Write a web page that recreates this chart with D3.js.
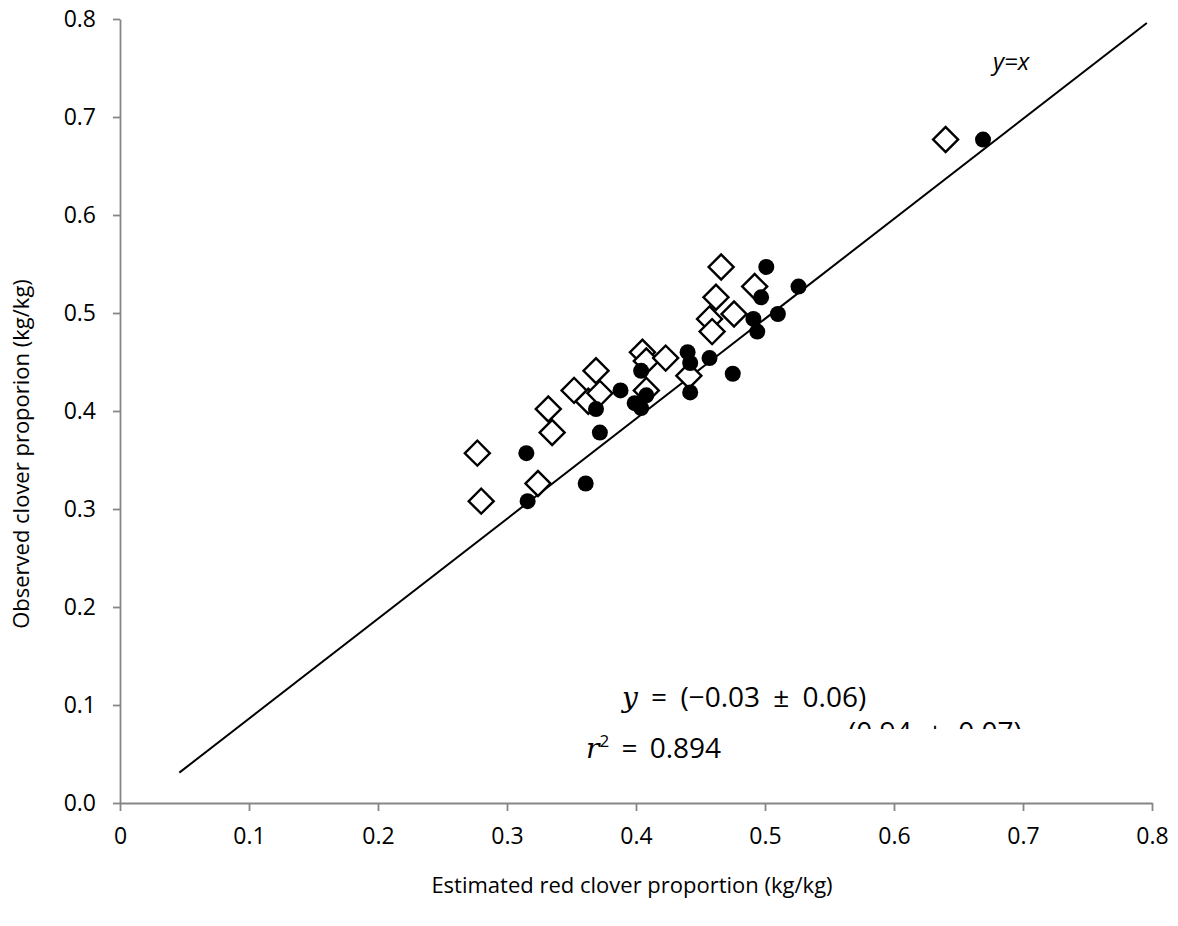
<!DOCTYPE html>
<html>
<head>
<meta charset="utf-8">
<script src="https://cdn.jsdelivr.net/npm/d3@7"></script>
<style>
  html, body { margin: 0; padding: 0; background: #ffffff; }
  svg { display: block; }
</style>
</head>
<body>
<svg id="chart" width="1178" height="926"></svg>
<script>
// Axis ticks (both axes run 0 – 0.8 kg/kg)
const tickValues = [0, 0.1, 0.2, 0.3, 0.4, 0.5, 0.6, 0.7, 0.8];
const xTickLabels = ["0", "0.1", "0.2", "0.3", "0.4", "0.5", "0.6", "0.7", "0.8"];
const yTickLabels = ["0.0", "0.1", "0.2", "0.3", "0.4", "0.5", "0.6", "0.7", "0.8"];

// Filled circles: estimated vs observed red clover proportion
const filledEstimated = [0.315, 0.316, 0.361, 0.372, 0.369, 0.388, 0.399, 0.404, 0.408, 0.404, 0.440,
                         0.442, 0.457, 0.475, 0.442, 0.491, 0.494, 0.510, 0.497, 0.501, 0.526, 0.669];
const filledObserved  = [0.357, 0.308, 0.326, 0.378, 0.402, 0.421, 0.408, 0.403, 0.416, 0.441, 0.460,
                         0.449, 0.454, 0.438, 0.419, 0.494, 0.481, 0.499, 0.516, 0.547, 0.527, 0.677];

// Open diamonds: estimated vs observed red clover proportion
const openEstimated = [0.277, 0.280, 0.324, 0.335, 0.332, 0.352, 0.363, 0.372, 0.369, 0.405, 0.408,
                       0.423, 0.408, 0.441, 0.457, 0.459, 0.476, 0.462, 0.466, 0.492, 0.640];
const openObserved  = [0.357, 0.308, 0.326, 0.378, 0.402, 0.421, 0.410, 0.418, 0.441, 0.460, 0.451,
                       0.454, 0.421, 0.436, 0.494, 0.481, 0.499, 0.516, 0.547, 0.527, 0.677];

// Reference line end points
const refLineX = [0.046, 0.796];
const refLineY = [0.031, 0.796];

const svg = d3.select("#chart");
const FONT = "'Open Sans', 'DejaVu Sans', sans-serif";
const MATH_ITALIC = "'DejaVu Serif', serif";
const AXIS_GREY = "#868686";

const x = d3.scaleLinear().domain([0, 0.8]).range([120, 1152]);
const y = d3.scaleLinear().domain([0, 0.8]).range([803, 19]);

svg.append("rect").attr("width", 1178).attr("height", 926).attr("fill", "#ffffff");

// Y axis
const yAxis = d3.axisLeft(y)
  .tickValues(tickValues)
  .tickFormat((d, i) => yTickLabels[i])
  .tickSizeInner(7).tickSizeOuter(0).tickPadding(17);
const gy = svg.append("g").attr("transform", "translate(120,0)").call(yAxis);

// X axis
const xAxis = d3.axisBottom(x)
  .tickValues(tickValues)
  .tickFormat((d, i) => xTickLabels[i])
  .tickSizeInner(8).tickSizeOuter(0).tickPadding(17);
const gx = svg.append("g").attr("transform", "translate(0,803)").call(xAxis);

[gx, gy].forEach(g => {
  g.select(".domain").attr("stroke", AXIS_GREY).attr("stroke-width", 1.8);
  g.selectAll(".tick line").attr("stroke", AXIS_GREY).attr("stroke-width", 1.8);
  g.selectAll(".tick text")
    .attr("fill", "#000")
    .style("font-family", FONT)
    .style("font-size", "23px");
});

// Axis titles
svg.append("text")
  .attr("x", 632).attr("y", 893)
  .attr("text-anchor", "middle")
  .style("font-family", FONT).style("font-size", "22px")
  .text("Estimated red clover proportion (kg/kg)");

svg.append("text")
  .attr("transform", "translate(29,454) rotate(-90)")
  .attr("text-anchor", "middle")
  .style("font-family", FONT).style("font-size", "22px")
  .text("Observed clover proporion (kg/kg)");

// Reference line
const lineGen = d3.line().x(d => x(d[0])).y(d => y(d[1]));
svg.append("path")
  .datum(d3.zip(refLineX, refLineY))
  .attr("d", lineGen)
  .attr("fill", "none")
  .attr("stroke", "#000")
  .attr("stroke-width", 2);

svg.append("text")
  .attr("x", 993).attr("y", 70)
  .style("font-family", FONT).style("font-size", "24px").style("font-style", "italic")
  .text("y=x");

// Open diamonds (drawn beneath the filled circles)
const diamond = d3.symbol().type(d3.symbolSquare).size(2 * 12.5 * 12.5);
svg.append("g").selectAll("path")
  .data(d3.zip(openEstimated, openObserved))
  .join("path")
  .attr("d", diamond)
  .attr("transform", d => `translate(${x(d[0])},${y(d[1])}) rotate(45)`)
  .attr("fill", "#fff")
  .attr("stroke", "#000")
  .attr("stroke-width", 2.4);

// Filled circles
svg.append("g").selectAll("circle")
  .data(d3.zip(filledEstimated, filledObserved))
  .join("circle")
  .attr("cx", d => x(d[0]))
  .attr("cy", d => y(d[1]))
  .attr("r", 8)
  .attr("fill", "#000");

// Regression equation
function eqText(x0, baseline, wordSpacing) {
  return svg.append("text")
    .attr("x", x0).attr("y", baseline)
    .attr("xml:space", "preserve")
    .style("font-family", FONT).style("font-size", "28px")
    .style("word-spacing", wordSpacing + "px");
}

const eq1 = eqText(622, 707, 6);
eq1.append("tspan").style("font-family", MATH_ITALIC).style("font-style", "italic").text("y");
eq1.append("tspan").text(" = (−0.03 ± 0.06)");

// Second line of the equation, cut off by its box
svg.append("clipPath").attr("id", "eqClip")
  .append("rect").attr("x", 800).attr("y", 716).attr("width", 300).attr("height", 13);
eqText(848, 742, 8)
  .attr("clip-path", "url(#eqClip)")
  .text("(0.94 ± 0.07)");

const eq2 = eqText(586, 758, 5);
eq2.append("tspan").style("font-family", MATH_ITALIC).style("font-style", "italic").text("r");
eq2.append("tspan").attr("dy", -11).style("font-size", "17px").text("2");
eq2.append("tspan").attr("dy", 11).text(" = 0.894");
</script>
</body>
</html>
